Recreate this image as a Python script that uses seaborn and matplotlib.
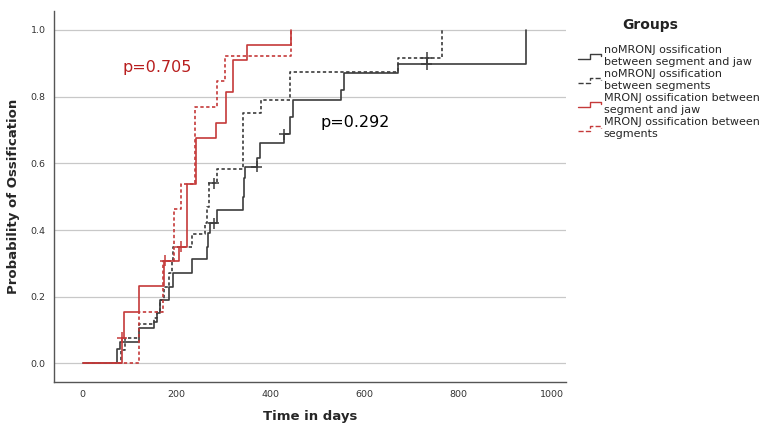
import numpy as np
import pandas as pd
import matplotlib
matplotlib.use("Agg")
import matplotlib.pyplot as plt
import seaborn as sns
from matplotlib.lines import Line2D
from matplotlib.legend_handler import HandlerBase

# Group labels
groups = [
    "noMRONJ ossification\nbetween segment and jaw",
    "noMRONJ ossification\nbetween segments",
    "MRONJ ossification between\nsegment and jaw",
    "MRONJ ossification between\nsegments",
]

# Step curves (days, cumulative probability of ossification)
nomronj_jaw_days = [0, 74, 80, 121, 153, 158, 164, 185, 193, 233, 265, 268, 272, 286,
                    341, 343, 346, 372, 378, 429, 442, 449, 551, 556, 673, 944]
nomronj_jaw_prob = [0, 0.043, 0.065, 0.105, 0.125, 0.15, 0.19, 0.23, 0.27, 0.313, 0.35, 0.39,
                    0.42, 0.46, 0.50, 0.555, 0.59, 0.615, 0.662, 0.687, 0.74, 0.79, 0.82,
                    0.87, 0.897, 1.0]
nomronj_seg_days = [0, 82, 90, 121, 153, 158, 164, 174, 185, 190, 193, 232, 261, 264, 270,
                    286, 341, 380, 442, 673, 766]
nomronj_seg_prob = [0, 0.04, 0.077, 0.117, 0.135, 0.155, 0.19, 0.23, 0.27, 0.31, 0.348, 0.388,
                    0.42, 0.47, 0.54, 0.582, 0.75, 0.79, 0.875, 0.917, 1.0]
mronj_jaw_days = [0, 83, 89, 121, 174, 206, 222, 242, 284, 305, 320, 351, 445]
mronj_jaw_prob = [0, 0.077, 0.154, 0.231, 0.308, 0.35, 0.537, 0.675, 0.72, 0.815, 0.91,
                  0.955, 1.0]
mronj_seg_days = [0, 121, 172, 195, 209, 240, 286, 303, 445]
mronj_seg_prob = [0, 0.154, 0.308, 0.462, 0.538, 0.769, 0.846, 0.923, 1.0]

# Censored observations
nomronj_jaw_cens_days = [279, 371, 429, 733]
nomronj_jaw_cens_prob = [0.42, 0.59, 0.687, 0.897]
nomronj_seg_cens_days = [279, 733]
nomronj_seg_cens_prob = [0.54, 0.917]
mronj_jaw_cens_days = [84, 176, 209]
mronj_jaw_cens_prob = [0.077, 0.308, 0.35]

curves = pd.concat([
    pd.DataFrame({"days": nomronj_jaw_days, "prob": nomronj_jaw_prob, "group": groups[0]}),
    pd.DataFrame({"days": nomronj_seg_days, "prob": nomronj_seg_prob, "group": groups[1]}),
    pd.DataFrame({"days": mronj_jaw_days, "prob": mronj_jaw_prob, "group": groups[2]}),
    pd.DataFrame({"days": mronj_seg_days, "prob": mronj_seg_prob, "group": groups[3]}),
], ignore_index=True)

censored = pd.concat([
    pd.DataFrame({"days": nomronj_jaw_cens_days, "prob": nomronj_jaw_cens_prob, "group": groups[0]}),
    pd.DataFrame({"days": nomronj_seg_cens_days, "prob": nomronj_seg_cens_prob, "group": groups[1]}),
    pd.DataFrame({"days": mronj_jaw_cens_days, "prob": mronj_jaw_cens_prob, "group": groups[2]}),
], ignore_index=True)

dark = "#3c3c3c"
red = "#c53a3a"
palette = {groups[0]: dark, groups[1]: dark, groups[2]: red, groups[3]: red}
dashes = {groups[0]: "", groups[1]: (2, 1.5), groups[2]: "", groups[3]: (2, 1.5)}

sns.set_style("white")
plt.rcParams["font.family"] = ["DejaVu Sans"]

fig = plt.figure(figsize=(7.63, 4.23), dpi=100)
ax = fig.add_axes([54 / 763, 1 - 382 / 423, (566 - 54) / 763, (382 - 11) / 423])

sns.lineplot(data=curves, x="days", y="prob", hue="group", style="group",
             palette=palette, dashes=dashes, estimator=None, sort=False,
             drawstyle="steps-post", linewidth=1.2, legend=False, ax=ax)
sns.scatterplot(data=censored, x="days", y="prob", hue="group", palette=palette,
                marker="+", s=60, linewidth=1.1, legend=False, ax=ax, zorder=5)

ax.set_xlim(-61, 1030)
ax.set_ylim(-0.056, 1.057)
ax.set_xticks([0, 200, 400, 600, 800, 1000])
ax.set_yticks([0.0, 0.2, 0.4, 0.6, 0.8, 1.0])
ax.set_yticklabels(["0.0", "0.2", "0.4", "0.6", "0.8", "1.0"])
ax.tick_params(length=0, labelsize=6.8, labelcolor="#333333", pad=6)
ax.yaxis.grid(True, color="#c8c8c8", linewidth=0.9)
ax.set_axisbelow(True)
sns.despine(ax=ax)
for side in ["left", "bottom"]:
    ax.spines[side].set_color("#555555")
    ax.spines[side].set_linewidth(1.0)

ax.set_xlabel("Time in days", fontsize=9.5, fontweight="bold", labelpad=8)
ax.set_ylabel("Probability of Ossification", fontsize=9.5, fontweight="bold", labelpad=8)

ax.text(84, 0.886, "p=0.705", color="#b81e1e", fontsize=11.5, va="center", ha="left")
ax.text(506, 0.721, "p=0.292", color="black", fontsize=11.5, va="center", ha="left")


class StepHandler(HandlerBase):
    def create_artists(self, legend, orig_handle, xdescent, ydescent, width, height,
                       fontsize, trans):
        x0, y0 = -xdescent, -ydescent
        xs = [x0, x0 + 0.55 * width, x0 + 0.55 * width, x0 + width, x0 + width]
        ys = [y0 + 0.1 * height, y0 + 0.1 * height, y0 + 0.8 * height,
              y0 + 0.8 * height, y0 + 0.5 * height]
        line = Line2D(xs, ys, color=orig_handle.get_color(),
                      linestyle=orig_handle.get_linestyle(), linewidth=1.0)
        line.set_transform(trans)
        return [line]


handles = [Line2D([], [], color=palette[g], linestyle="-" if dashes[g] == "" else (0, (2, 1.5)))
           for g in groups]
fig.text(650 / 763, 1 - 25 / 423, "Groups", fontsize=10, fontweight="bold",
         ha="center", va="center", color="#222222")
leg = fig.legend(handles, groups, loc="upper left", bbox_to_anchor=(572 / 763, 1 - 39 / 423),
                 frameon=False, fontsize=8, handlelength=2.1,
                 handletextpad=0.25, labelspacing=0.15, borderpad=0,
                 handler_map={Line2D: StepHandler()})
for t in leg.get_texts():
    t.set_linespacing(1.3)

fig.savefig("out.png", dpi=100)
